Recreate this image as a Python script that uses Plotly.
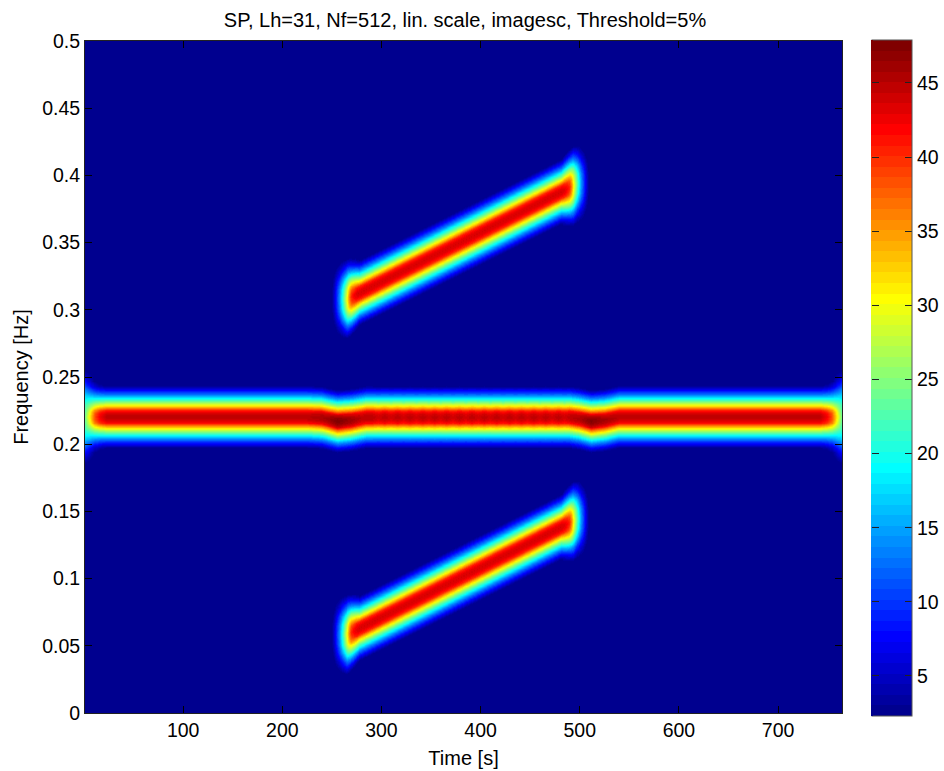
import numpy as np
import plotly.graph_objects as go

TITLE = "SP, Lh=31, Nf=512, lin. scale, imagesc, Threshold=5%"
X_TICKS = [100, 200, 300, 400, 500, 600, 700]
Y_TICKS = [0, 0.05, 0.1, 0.15, 0.2, 0.25, 0.3, 0.35, 0.4, 0.45, 0.5]
Y_LABELS = ["0", "0.05", "0.1", "0.15", "0.2", "0.25", "0.3", "0.35", "0.4", "0.45", "0.5"]
CBAR_TICKS = [5, 10, 15, 20, 25, 30, 35, 40, 45]
Z_MIN, Z_MAX = 2.3, 47.9
T_MIN, T_MAX = 1.0, 764.5

# Values: ridge positions and peak levels
CENTRAL_T = [1, 225, 240, 256, 270, 285, 490, 500, 512, 526, 540, 764]
CENTRAL_F = [.22, .22, .2195, .2168, .2178, .2198, .2198, .2188, .2168, .2178, .22, .22]
CENTRAL_AT = [1, 225, 245, 256, 268, 280,
              291, 297, 303.5, 310, 316.5, 322.5, 329, 335.5, 342, 348, 354, 360, 366,
              372.5, 379, 385.5, 391.5, 398, 404, 410, 416.5, 423, 429.5, 435.5, 441.5,
              447.5, 454, 460, 466, 472.5, 479, 485, 491,
              500, 512, 525, 540, 764]
CENTRAL_AMP = [45, 45, 46, 47.8, 46.5, 45,
               45, 44, 45, 44, 45, 44, 45, 44, 45, 44, 45, 44, 45,
               44, 45, 44, 45, 44, 45, 44, 45, 44, 45, 44, 45,
               44, 45, 44, 45, 44, 45, 44, 45,
               45.5, 47.5, 46, 45, 45]

UPPER_T = [250, 265, 270, 491, 498, 510]
UPPER_F = [.3075, .3078, .3095, .391, .3935, .394]
LOWER_T = [250, 265, 270, 491, 498, 510]
LOWER_F = [.0575, .0578, .0598, .1415, .144, .1445]
CHIRP_AMP = 43.7
CENTRAL_WIDTH = 1.05
CHIRP_WIDTH = 1.1
CENTRAL_END_WIDTH = 1.2
CHIRP_END_WIDTH = 1.0

# Cross-section of a ridge: frequency offset and share of the peak level
PROFILE_DF = [0, .0022, .0045, .006, .0082, .0104, .013, .0156, .0186, .0216, .0245]
PROFILE_LV = [1, .98, .92, .81, .68, .56, .43, .30, .18, .07, .02]
# Wider cross-section seen where a ridge reaches its end
END_DF = [0, .0074, .0134, .02, .0246, .029, .033]
END_LV = [1, .92, .72, .42, .25, .1, 0]

# Near an end: seconds in from the end, share of the end cross-section, its level
CENTRAL_D = [0, 5, 10, 15, 22]
CENTRAL_MIX = [1, .65, .3, .12, 0]
CENTRAL_END_LV = [.53, .53, .53, .53, .53]
CHIRP_D = [0, 3, 8, 12, 16, 20, 28]
CHIRP_MIX = [1, 1, 1, 1, 1, .6, 0]
CHIRP_END_LV = [.05, .14, .33, .52, .72, .88, 1]

t = np.arange(T_MIN, T_MAX + 1, 1.0)
f = np.linspace(0, 0.5, 512)
F = f[:, None]


def ridge(fc, amp, width, end_width, d, d_tab, mix_tab, lv_tab):
    off = np.abs(F - fc[None, :])
    core = np.interp(off / width, PROFILE_DF, PROFILE_LV, right=0)
    end = np.interp(off / end_width, END_DF, END_LV, right=0)
    mix = np.interp(d, d_tab, mix_tab)[None, :]
    lv = np.interp(d, d_tab, lv_tab)[None, :]
    return amp[None, :] * ((1 - mix) * core + mix * lv * end)


d_c = np.minimum(t - t[0], t[-1] - t)
central = ridge(np.interp(t, CENTRAL_T, CENTRAL_F), np.interp(t, CENTRAL_AT, CENTRAL_AMP),
                CENTRAL_WIDTH, CENTRAL_END_WIDTH, d_c, CENTRAL_D, CENTRAL_MIX, CENTRAL_END_LV)


def chirp(ts, fs):
    d = np.minimum(t - ts[0], ts[-1] - t)
    a = CHIRP_AMP * (d >= 0).astype(float)
    return ridge(np.interp(t, ts, fs), a, CHIRP_WIDTH, CHIRP_END_WIDTH, d, CHIRP_D, CHIRP_MIX, CHIRP_END_LV)


z = np.maximum.reduce([central, chirp(UPPER_T, UPPER_F), chirp(LOWER_T, LOWER_F)])
z = np.clip(z, Z_MIN, Z_MAX)


def jet(v):
    c = lambda a: np.clip(1.5 - abs(4 * v - a), 0, 1)
    return "rgb(%d,%d,%d)" % (round(255 * c(3)), round(255 * c(2)), round(255 * c(1)))


scale = []
for i in range(64):
    col = jet((i + 1) / 64)
    scale += [[i / 64, col], [(i + 1) / 64, col]]

font = dict(family="Liberation Sans, Arial, sans-serif", color="#000000")
fig = go.Figure(go.Heatmap(
    x=t, y=f, z=z, zmin=Z_MIN, zmax=Z_MAX, colorscale=scale, zsmooth="fast",
    colorbar=dict(
        thickness=40, thicknessmode="pixels", len=676, lenmode="pixels",
        x=787 / 757, xanchor="left", xpad=0, y=1.0015, yanchor="top", ypad=0,
        tickvals=CBAR_TICKS, ticks="inside", ticklen=7, tickcolor="#222222",
        outlinecolor="#555555", outlinewidth=1,
        tickfont=dict(size=19.5, **font),
    ),
))
# A second, unseen colour bar only draws the tick marks on the bar's left side
fig.add_trace(go.Heatmap(
    x=[T_MIN, T_MAX], y=[0, 0.5], z=[[Z_MIN, Z_MAX], [Z_MIN, Z_MAX]],
    zmin=Z_MIN, zmax=Z_MAX, colorscale=scale, opacity=0, hoverinfo="skip",
    colorbar=dict(
        thickness=1, thicknessmode="pixels", len=676, lenmode="pixels",
        x=786 / 757, xanchor="left", xpad=0, y=1.0015, yanchor="top", ypad=0,
        tickvals=CBAR_TICKS, ticks="outside", ticklen=7, tickcolor="#222222",
        outlinewidth=0, showticklabels=False,
    ),
))
axis = dict(ticks="inside", ticklen=7, tickcolor="#000000", showline=True, linecolor="#222222",
            linewidth=1, mirror="ticks", showgrid=False, zeroline=False,
            tickfont=dict(size=19.5, **font))
fig.update_xaxes(range=[T_MIN, T_MAX], tickvals=X_TICKS, title=dict(text="Time [s]", font=dict(size=20, **font), standoff=10), **axis)
fig.update_yaxes(range=[0, 0.5], tickvals=Y_TICKS, ticktext=Y_LABELS, title=dict(text="Frequency [Hz]", font=dict(size=20, **font), standoff=8), **axis)
fig.update_layout(
    width=944, height=771, margin=dict(l=85, r=102, t=41, b=58, autoexpand=False),
    paper_bgcolor="#ffffff", plot_bgcolor="#000080",
    title=dict(text=TITLE, font=dict(size=20, **font), x=465 / 944, xanchor="center", y=1 - 20 / 771, yanchor="middle"),
)
fig.write_html("out.html", config=dict(displayModeBar=False), post_script="document.body.style.margin='0';")
